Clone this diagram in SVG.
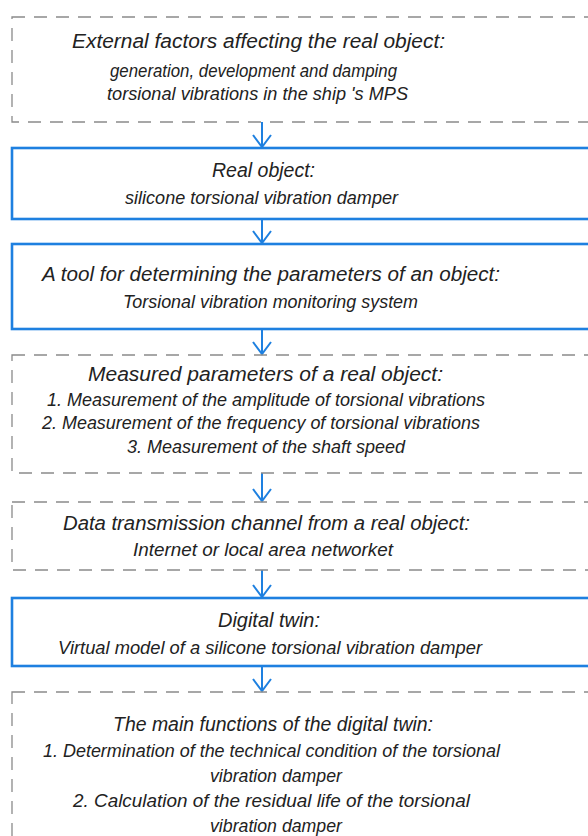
<svg xmlns="http://www.w3.org/2000/svg" width="588" height="836" viewBox="0 0 588 836">
<defs>
<style>
.bg{fill:#ffffff}
.dash{fill:none;stroke:#8a8a8a;stroke-width:1.3;stroke-dasharray:13 9}
.solid{fill:none;stroke:#1e80e0;stroke-width:2.6}
.con{fill:none;stroke:#1e80e0;stroke-width:2}
text{font-family:"Liberation Sans",Arial,sans-serif;font-style:italic;font-size:19px;fill:#222;text-anchor:middle}
text.t{font-size:20px}
</style>
</defs>
<rect class="bg" x="0" y="0" width="588" height="836"/>
<g id="connectors">
<line class="con" x1="262" y1="122" x2="262" y2="147"/>
<polyline class="con" points="253,135 262,147 271,135"/>
<line class="con" x1="262" y1="219" x2="262" y2="243"/>
<polyline class="con" points="253,231 262,243 271,231"/>
<line class="con" x1="262" y1="329" x2="262" y2="354"/>
<polyline class="con" points="253,342 262,354 271,342"/>
<line class="con" x1="262" y1="473" x2="262" y2="501"/>
<polyline class="con" points="253,489 262,501 271,489"/>
<line class="con" x1="262" y1="570" x2="262" y2="597"/>
<polyline class="con" points="253,585 262,597 271,585"/>
<line class="con" x1="262" y1="666" x2="262" y2="691"/>
<polyline class="con" points="253,679 262,691 271,679"/>
</g>
<g id="node-external">
<rect class="dash" x="12" y="17" width="600" height="105"/>
<text class="t" x="258.5" y="48" textLength="373" lengthAdjust="spacingAndGlyphs">External factors affecting the real object:</text>
<text x="253.5" y="77" textLength="287" lengthAdjust="spacingAndGlyphs">generation, development and damping</text>
<text x="257.5" y="100" textLength="301" lengthAdjust="spacingAndGlyphs">torsional vibrations in the ship 's MPS</text>
</g>
<g id="node-real">
<rect class="solid" x="12" y="148" width="600" height="71"/>
<text class="t" x="263.5" y="177" textLength="103" lengthAdjust="spacingAndGlyphs">Real object:</text>
<text x="261.5" y="204" textLength="273" lengthAdjust="spacingAndGlyphs">silicone torsional vibration damper</text>
</g>
<g id="node-tool">
<rect class="solid" x="12" y="244" width="600" height="85"/>
<text class="t" x="271" y="281" textLength="458" lengthAdjust="spacingAndGlyphs">A tool for determining the parameters of an object:</text>
<text x="270.5" y="308" textLength="295" lengthAdjust="spacingAndGlyphs">Torsional vibration monitoring system</text>
</g>
<g id="node-measured">
<rect class="dash" x="12" y="355" width="600" height="118"/>
<text class="t" x="265.5" y="381" textLength="355" lengthAdjust="spacingAndGlyphs">Measured parameters of a real object:</text>
<text x="266" y="406" textLength="438" lengthAdjust="spacingAndGlyphs">1. Measurement of the amplitude of torsional vibrations</text>
<text x="261" y="429" textLength="438" lengthAdjust="spacingAndGlyphs">2. Measurement of the frequency of torsional vibrations</text>
<text x="266" y="453" textLength="278" lengthAdjust="spacingAndGlyphs">3. Measurement of the shaft speed</text>
</g>
<g id="node-channel">
<rect class="dash" x="12" y="502" width="600" height="68"/>
<text class="t" x="266.5" y="530" textLength="407" lengthAdjust="spacingAndGlyphs">Data transmission channel from a real object:</text>
<text x="263" y="556" textLength="260" lengthAdjust="spacingAndGlyphs">Internet or local area networket</text>
</g>
<g id="node-twin">
<rect class="solid" x="12" y="598" width="600" height="68"/>
<text class="t" x="269" y="627" textLength="102" lengthAdjust="spacingAndGlyphs">Digital twin:</text>
<text x="270" y="654" textLength="424" lengthAdjust="spacingAndGlyphs">Virtual model of a silicone torsional vibration damper</text>
</g>
<g id="node-functions">
<rect class="dash" x="12" y="692" width="600" height="220"/>
<text class="t" x="273" y="731" textLength="320" lengthAdjust="spacingAndGlyphs">The main functions of the digital twin:</text>
<text x="271.5" y="757" textLength="457" lengthAdjust="spacingAndGlyphs">1. Determination of the technical condition of the torsional</text>
<text x="276" y="782" textLength="132" lengthAdjust="spacingAndGlyphs">vibration damper</text>
<text x="271.5" y="807" textLength="397" lengthAdjust="spacingAndGlyphs">2. Calculation of the residual life of the torsional</text>
<text x="276" y="832" textLength="132" lengthAdjust="spacingAndGlyphs">vibration damper</text>
</g>
</svg>
